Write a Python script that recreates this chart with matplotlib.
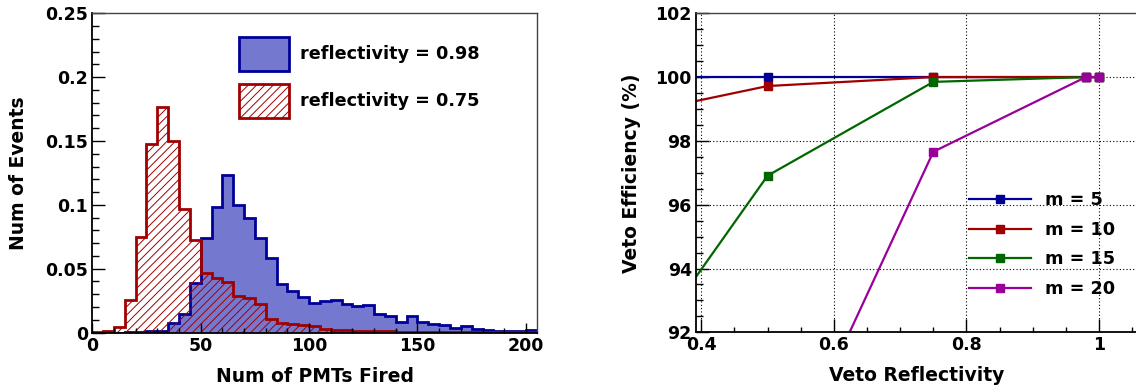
import numpy as np
import matplotlib
matplotlib.use("Agg")
import matplotlib.pyplot as plt
from matplotlib.patches import Patch
from matplotlib.ticker import MultipleLocator

# ---------------- data ----------------
# Histogram of fired PMTs (bins of width 5, from 0 to 205)
pmt_bin_edges = np.arange(0, 206, 5)
events_refl_098 = [0.0, 0.0, 0.0, 0.0003, 0.0005, 0.0008, 0.001, 0.0073, 0.0146,
                   0.039, 0.0738, 0.098, 0.1234, 0.1002, 0.0897, 0.0738, 0.0585,
                   0.0382, 0.0325, 0.0278, 0.023, 0.0246, 0.0251, 0.0223, 0.0204,
                   0.0214, 0.0145, 0.013, 0.0086, 0.013, 0.0079, 0.0068, 0.0062,
                   0.0037, 0.0054, 0.003, 0.0019, 0.0015, 0.0014, 0.0011, 0.0018]
events_refl_075 = [0.0005, 0.001, 0.0045, 0.0256, 0.0751, 0.1477, 0.1764, 0.1503,
                   0.097, 0.0725, 0.0465, 0.0425, 0.0392, 0.0283, 0.027, 0.0223,
                   0.0106, 0.0075, 0.0065, 0.0056, 0.0047, 0.003, 0.0018, 0.0016,
                   0.0012, 0.001, 0.0008, 0.0008, 0.0006, 0.0006, 0.0005, 0.0005,
                   0.0004, 0.0004, 0.0003, 0.0003, 0.0003, 0.0002, 0.0002, 0.0002,
                   0.0002]
hist_labels = ["reflectivity = 0.98", "reflectivity = 0.75"]
events_yticks = [0, 0.05, 0.1, 0.15, 0.2, 0.25]
events_yticklabels = ["0", "0.05", "0.1", "0.15", "0.2", "0.25"]
pmt_xticks = [0, 50, 100, 150, 200]

# Veto efficiency vs reflectivity for several multiplicity thresholds m
reflectivity = [0.25, 0.5, 0.75, 0.98, 1.0]
eff_m5 = [100.0, 100.0, 100.0, 100.0, 100.0]
eff_m10 = [98.63, 99.72, 100.0, 100.0, 100.0]
eff_m15 = [89.57, 96.91, 99.85, 100.0, 100.0]
eff_m20 = [72.0, 86.46, 97.66, 100.0, 100.0]
m_labels = ["m = 5", "m = 10", "m = 15", "m = 20"]
refl_xticks = [0.4, 0.6, 0.8, 1.0]
refl_xticklabels = ["0.4", "0.6", "0.8", "1"]
eff_yticks = [92, 94, 96, 98, 100, 102]

# ---------------- style ----------------
plt.rcParams["font.family"] = ["DejaVu Sans"]
plt.rcParams["font.weight"] = "bold"
plt.rcParams["hatch.linewidth"] = 0.7

BLUE_EDGE = "#000099"
BLUE_FILL = "#7479cf"
RED = "#a00000"
GREEN = "#006600"
MAGENTA = "#990099"

TICK_FS = 12.5
TITLE_FS = 13.5
LEGEND_FS = 12.7

W, H = 1136, 390
fig = plt.figure(figsize=(W / 100, H / 100), dpi=100)


def px_axes(x0, x1, ytop, ybot):
    return fig.add_axes([x0 / W, 1 - ybot / H, (x1 - x0) / W, (ybot - ytop) / H])


def style_axis(ax, xmaj, xmin_len, ymaj, ymin_len):
    ax.tick_params(which="both", direction="in", top=False, right=False,
                   labelsize=TICK_FS, width=1.0, colors="black")
    ax.tick_params(axis="x", which="major", length=xmaj, pad=3)
    ax.tick_params(axis="x", which="minor", length=xmin_len)
    ax.tick_params(axis="y", which="major", length=ymaj, pad=3)
    ax.tick_params(axis="y", which="minor", length=ymin_len)
    for lab in ax.get_xticklabels() + ax.get_yticklabels():
        lab.set_fontweight("bold")
    for side in ("left", "bottom"):
        ax.spines[side].set_linewidth(1.3)
        ax.spines[side].set_color("black")
    for side in ("top", "right"):
        ax.spines[side].set_linewidth(1.0)
        ax.spines[side].set_color("#444444")


# ---------------- left: PMT multiplicity histogram ----------------
ax1 = px_axes(92.3, 536.7, 13.3, 332.5)
ax1.stairs(events_refl_098, pmt_bin_edges, fill=True, facecolor=BLUE_FILL,
           edgecolor="none", lw=0)
ax1.stairs(events_refl_098, pmt_bin_edges, color=BLUE_EDGE, lw=2.0)
ax1.stairs(events_refl_075, pmt_bin_edges, fill=True, facecolor="none",
           edgecolor=RED, hatch="////", lw=0)
ax1.stairs(events_refl_075, pmt_bin_edges, color=RED, lw=2.0)

ax1.set_xlim(pmt_bin_edges[0], pmt_bin_edges[-1])
ax1.set_ylim(events_yticks[0], events_yticks[-1])
ax1.set_xticks(pmt_xticks)
ax1.xaxis.set_minor_locator(MultipleLocator(10))
ax1.set_yticks(events_yticks)
ax1.set_yticklabels(events_yticklabels)
ax1.yaxis.set_minor_locator(MultipleLocator(0.01))
style_axis(ax1, 7.0, 3.6, 9.5, 4.8)

ax1.set_xlabel("Num of PMTs Fired", fontsize=TITLE_FS, fontweight="bold", va="center")
ax1.xaxis.set_label_coords(0.5, -0.139)
ax1.set_ylabel("Num of Events", fontsize=TITLE_FS, fontweight="bold", va="center")
ax1.yaxis.set_label_coords(-0.167, 0.5)

hist_handles = [
    Patch(facecolor=BLUE_FILL, edgecolor=BLUE_EDGE, lw=2.0),
    Patch(facecolor="none", edgecolor=RED, hatch="////", lw=2.0),
]
ax1.legend(hist_handles, hist_labels, loc="upper left",
           bbox_to_anchor=(0.331, 0.927), frameon=False,
           prop={"weight": "bold", "size": LEGEND_FS},
           handlelength=2.84, handleheight=2.59, handletextpad=0.6,
           labelspacing=0.75, borderpad=0, borderaxespad=0)

# ---------------- right: veto efficiency ----------------
ax2 = px_axes(696, 1137, 13.3, 332.3)
series = [(eff_m5, BLUE_EDGE), (eff_m10, RED), (eff_m15, GREEN), (eff_m20, MAGENTA)]
for (vals, col), lab in zip(series, m_labels):
    ax2.plot(reflectivity, vals, color=col, lw=1.6, marker="s", ms=6.3,
             mec=col, mfc=col, label=lab)

ax2.set_xlim(0.392, 1.0572)
ax2.set_ylim(eff_yticks[0], eff_yticks[-1])
ax2.set_xticks(refl_xticks)
ax2.set_xticklabels(refl_xticklabels)
ax2.xaxis.set_minor_locator(MultipleLocator(0.05))
ax2.set_yticks(eff_yticks)
ax2.yaxis.set_minor_locator(MultipleLocator(0.5))
ax2.grid(True, which="major", color="black", lw=0.8, linestyle=(0, (1, 2)))
ax2.set_axisbelow(True)
style_axis(ax2, 9.5, 3.6, 9.5, 4.8)

ax2.set_xlabel("Veto Reflectivity", fontsize=TITLE_FS, fontweight="bold", va="center")
ax2.xaxis.set_label_coords(0.5, -0.136)
ax2.set_ylabel("Veto Efficiency (%)", fontsize=TITLE_FS, fontweight="bold", va="center")
ax2.yaxis.set_label_coords(-0.147, 0.5)

ax2.legend(loc="center left", bbox_to_anchor=(0.619, 0.275), frameon=False,
           prop={"weight": "bold", "size": LEGEND_FS}, numpoints=1,
           handlelength=3.5, handletextpad=0.8, labelspacing=0.66,
           borderpad=0, borderaxespad=0)

fig.savefig("out.png", dpi=100)
